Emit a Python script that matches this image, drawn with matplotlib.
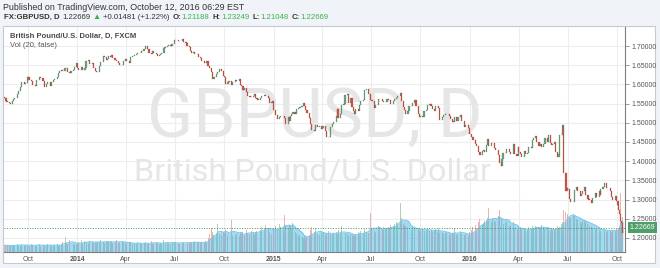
import numpy as np
import pandas as pd
import matplotlib
matplotlib.use("Agg")
import matplotlib.pyplot as plt
import matplotlib.dates as mdates
from matplotlib.patches import Rectangle

plt.rcParams['font.family'] = ['Liberation Sans', 'DejaVu Sans']

# ------------------------------------------------------------------ data
# bars per month (2013: Aug..Dec, 2014/2015: Jan..Dec, 2016: Jan..Oct)
bars_2013 = [5, 10, 10, 10, 10]
bars_2014 = [10, 10, 10, 10, 10, 10, 10, 10, 10, 10, 10, 10]
bars_2015 = [10, 10, 10, 10, 10, 10, 10, 10, 10, 10, 10, 10]
bars_2016 = [10, 10, 10, 10, 10, 12, 10, 10, 10, 8]
first_bar_day = '2013-08-19'
last_bar_day = '2016-10-12'
first_open = 1.5680

close_2013 = [
    1.5640, 1.5580, 1.5530, 1.5510, 1.5495,
    1.5560, 1.5610, 1.5650, 1.5760, 1.5830, 1.5930, 1.6050, 1.6010, 1.6040, 1.6180,
    1.6180, 1.6120, 1.6090, 1.5990, 1.5960, 1.6110, 1.6200, 1.6170, 1.6090, 1.6020,
    1.5930, 1.6010, 1.6050, 1.5960, 1.6060, 1.6110, 1.6140, 1.6180, 1.6290, 1.6360,
    1.6380, 1.6360, 1.6440, 1.6420, 1.6330, 1.6300, 1.6350, 1.6380, 1.6450, 1.6560,
]
close_2014 = [
    1.6420, 1.6370, 1.6450, 1.6380, 1.6430, 1.6600, 1.6640, 1.6540, 1.6570, 1.6440,
    1.6350, 1.6310, 1.6330, 1.6470, 1.6590, 1.6730, 1.6720, 1.6630, 1.6660, 1.6750,
    1.6720, 1.6770, 1.6690, 1.6630, 1.6610, 1.6560, 1.6500, 1.6510, 1.6600, 1.6660,
    1.6650, 1.6600, 1.6570, 1.6720, 1.6750, 1.6770, 1.6790, 1.6810, 1.6830, 1.6880,
    1.6870, 1.6930, 1.6990, 1.6930, 1.6830, 1.6790, 1.6860, 1.6830, 1.6780, 1.6750,
    1.6760, 1.6790, 1.6820, 1.6950, 1.6970, 1.7010, 1.7030, 1.7000, 1.7040, 1.7100,
    1.7150, 1.7160, 1.7140, 1.7120, 1.7170, 1.7110, 1.7070, 1.6990, 1.6970, 1.6880,
    1.6830, 1.6850, 1.6790, 1.6800, 1.6710, 1.6690, 1.6620, 1.6570, 1.6560, 1.6600,
    1.6470, 1.6420, 1.6310, 1.6140, 1.6190, 1.6270, 1.6310, 1.6390, 1.6340, 1.6210,
    1.6200, 1.6000, 1.6070, 1.6090, 1.5980, 1.6070, 1.6120, 1.6090, 1.6140, 1.5990,
    1.5960, 1.5860, 1.5900, 1.5790, 1.5710, 1.5680, 1.5660, 1.5700, 1.5740, 1.5640,
    1.5630, 1.5590, 1.5640, 1.5700, 1.5730, 1.5690, 1.5640, 1.5520, 1.5550, 1.5580,
]
close_2015 = [
    1.5330, 1.5200, 1.5100, 1.5160, 1.5170, 1.5180, 1.5120, 1.4960, 1.5150, 1.5050,
    1.5180, 1.5230, 1.5270, 1.5220, 1.5360, 1.5380, 1.5420, 1.5450, 1.5520, 1.5440,
    1.5340, 1.5250, 1.5120, 1.4980, 1.4810, 1.4780, 1.4950, 1.4890, 1.4920, 1.4840,
    1.4860, 1.4920, 1.4780, 1.4640, 1.4620, 1.4880, 1.4970, 1.5020, 1.5180, 1.5350,
    1.5130, 1.5230, 1.5470, 1.5500, 1.5720, 1.5740, 1.5520, 1.5640, 1.5420, 1.5300,
    1.5240, 1.5350, 1.5310, 1.5460, 1.5560, 1.5600, 1.5850, 1.5880, 1.5740, 1.5720,
    1.5600, 1.5570, 1.5390, 1.5470, 1.5620, 1.5610, 1.5580, 1.5530, 1.5550, 1.5610,
    1.5590, 1.5600, 1.5480, 1.5580, 1.5620, 1.5650, 1.5700, 1.5780, 1.5580, 1.5410,
    1.5330, 1.5230, 1.5300, 1.5430, 1.5440, 1.5520, 1.5590, 1.5440, 1.5220, 1.5140,
    1.5180, 1.5150, 1.5320, 1.5330, 1.5460, 1.5480, 1.5450, 1.5360, 1.5300, 1.5430,
    1.5440, 1.5390, 1.5060, 1.5140, 1.5200, 1.5240, 1.5230, 1.5180, 1.5100, 1.5050,
    1.5030, 1.5140, 1.5040, 1.5150, 1.5200, 1.5050, 1.4900, 1.4930, 1.4870, 1.4740,
]
close_2016 = [
    1.4720, 1.4620, 1.4560, 1.4440, 1.4390, 1.4250, 1.4160, 1.4260, 1.4290, 1.4250,
    1.4420, 1.4580, 1.4400, 1.4480, 1.4480, 1.4350, 1.4300, 1.4150, 1.3940, 1.3880,
    1.4070, 1.4220, 1.4220, 1.4310, 1.4250, 1.4180, 1.4460, 1.4200, 1.4140, 1.4370,
    1.4230, 1.4180, 1.4100, 1.4260, 1.4190, 1.4210, 1.4380, 1.4350, 1.4550, 1.4610,
    1.4650, 1.4500, 1.4390, 1.4450, 1.4370, 1.4460, 1.4600, 1.4490, 1.4670, 1.4480,
    1.4410, 1.4450, 1.4510, 1.4250, 1.4120, 1.4200, 1.4680, 1.4690, 1.4950, 1.3680, 1.3220, 1.3310,
    1.3280, 1.3010, 1.2950, 1.2950, 1.3240, 1.3330, 1.3220, 1.3100, 1.3140, 1.3230,
    1.3330, 1.3110, 1.3020, 1.3000, 1.2920, 1.3040, 1.3160, 1.3080, 1.3220, 1.3120,
    1.3280, 1.3330, 1.3420, 1.3310, 1.3290, 1.3230, 1.3060, 1.3000, 1.3100, 1.2970,
    1.2850, 1.2730, 1.2730, 1.2620, 1.2430, 1.2380, 1.2120, 1.22669,
]

vol_2013 = [
    7, 6, 7, 6, 7,
    7, 6, 7, 8, 7, 6, 8, 7, 6, 7,
    7, 6, 8, 7, 6, 7, 8, 6, 7, 7,
    6, 7, 8, 7, 6, 7, 7, 8, 6, 7,
    8, 10, 15, 9, 8, 12, 9, 8, 7, 8,
]
vol_2014 = [
    9, 10, 12, 9, 11, 10, 9, 11, 10, 9,
    10, 9, 11, 10, 12, 10, 9, 11, 10, 10,
    10, 11, 9, 10, 12, 9, 10, 11, 10, 9,
    9, 8, 10, 9, 8, 9, 8, 10, 9, 8,
    8, 9, 10, 8, 9, 11, 9, 8, 10, 9,
    8, 9, 8, 12, 9, 10, 9, 8, 9, 10,
    9, 10, 9, 8, 10, 9, 9, 10, 9, 10,
    10, 9, 11, 9, 10, 9, 10, 9, 11, 10,
    14, 18, 24, 20, 17, 19, 28, 18, 17, 20,
    19, 22, 17, 18, 32, 16, 17, 18, 16, 19,
    18, 20, 17, 22, 19, 18, 21, 19, 17, 20,
    21, 23, 22, 25, 24, 27, 23, 20, 18, 22,
]
vol_2015 = [
    24, 26, 23, 28, 25, 22, 37, 26, 24, 27,
    26, 23, 29, 20, 18, 17, 16, 15, 14, 16,
    14, 15, 17, 22, 25, 20, 24, 18, 17, 19,
    18, 20, 17, 19, 21, 18, 17, 19, 20, 18,
    22, 18, 26, 17, 19, 18, 16, 18, 17, 16,
    17, 18, 20, 19, 21, 18, 23, 20, 19, 39,
    22, 24, 21, 20, 26, 23, 22, 25, 24, 23,
    25, 24, 27, 26, 28, 30, 29, 49, 34, 28,
    27, 26, 25, 24, 22, 25, 23, 22, 24, 21,
    22, 23, 21, 22, 24, 21, 22, 20, 21, 23,
    20, 24, 19, 20, 18, 19, 20, 17, 18, 19,
    18, 24, 17, 19, 21, 18, 17, 18, 16, 17,
]
vol_2016 = [
    20, 22, 25, 27, 24, 30, 33, 28, 29, 31,
    32, 34, 44, 30, 33, 31, 30, 36, 42, 33,
    30, 28, 29, 31, 27, 26, 30, 24, 22, 23,
    21, 23, 22, 24, 21, 22, 25, 23, 26, 24,
    26, 25, 24, 23, 27, 25, 23, 24, 22, 21,
    23, 22, 21, 24, 26, 23, 25, 28, 30, 42, 40, 36,
    38, 35, 34, 37, 36, 33, 32, 30, 29, 31,
    30, 32, 28, 26, 25, 24, 23, 24, 22, 21,
    21, 22, 23, 20, 22, 21, 20, 22, 21, 23,
    22, 24, 23, 25, 59, 30, 35, 12,
]

price_ticks = [1.20, 1.25, 1.30, 1.35, 1.40, 1.45, 1.50, 1.55, 1.60, 1.65, 1.70]
time_tick_dates = ['2013-10-01', '2014-01-01', '2014-04-01', '2014-07-01', '2014-10-01',
                   '2015-01-01', '2015-04-01', '2015-07-01', '2015-10-01',
                   '2016-01-01', '2016-04-01', '2016-07-01', '2016-10-01']
time_tick_labels = ['Oct', '2014', 'Apr', 'Jul', 'Oct', '2015', 'Apr', 'Jul', 'Oct',
                    '2016', 'Apr', 'Jul', 'Oct']
last_price = 1.22669

# ------------------------------------------------------------------ bar dates
def month_dates(year, month, n, start=None, end=None):
    ms = pd.Timestamp(year=year, month=month, day=1)
    me = ms + pd.offsets.MonthEnd(0)
    if start is not None:
        ms = pd.Timestamp(start)
    if end is not None:
        me = pd.Timestamp(end)
    bd = pd.bdate_range(ms, me)
    idx = np.linspace(0, len(bd) - 1, n).round().astype(int)
    return list(bd[idx])

dates = []
for i, n in enumerate(bars_2013):
    m = 8 + i
    dates += month_dates(2013, m, n, start=first_bar_day if m == 8 else None)
for i, n in enumerate(bars_2014):
    dates += month_dates(2014, 1 + i, n)
for i, n in enumerate(bars_2015):
    dates += month_dates(2015, 1 + i, n)
for i, n in enumerate(bars_2016):
    m = 1 + i
    dates += month_dates(2016, m, n, end=last_bar_day if m == 10 else None)

closes = np.array(close_2013 + close_2014 + close_2015 + close_2016)
vols = np.array(vol_2013 + vol_2014 + vol_2015 + vol_2016, dtype=float)
assert len(closes) == len(dates) == len(vols)
opens = np.concatenate([[first_open], closes[:-1]])
x = mdates.date2num(pd.DatetimeIndex(dates).to_pydatetime())
up = closes >= opens

# ------------------------------------------------------------------ figure
W, H = 660, 268
fig = plt.figure(figsize=(W / 100, H / 100), dpi=100, facecolor='#f0f3f7')

def fx(px):
    return px / W

def fy(py):
    return 1 - py / H

# white panel (behind everything)
fig.patches.append(Rectangle((fx(3), fy(263)), fx(652), 237 / H, transform=fig.transFigure,
                             facecolor='white', edgecolor='#c5cad1', linewidth=0.8, zorder=-10))

rect = [fx(4), fy(252), 621 / W, 225 / H]
xlim = (mdates.date2num(pd.Timestamp('2013-08-17 08:00')),
        mdates.date2num(pd.Timestamp('2016-10-15 22:00')))
ylim = (1.1635, 1.7495)
tick_x = mdates.date2num(pd.DatetimeIndex(time_tick_dates).to_pydatetime())

# background layer: grid + watermark
ax_bg = fig.add_axes(rect, zorder=1)
ax_bg.set_xlim(xlim)
ax_bg.set_ylim(ylim)
ax_bg.patch.set_visible(False)
for s in ax_bg.spines.values():
    s.set_visible(False)
ax_bg.set_xticks([])
ax_bg.set_yticks([])
for t in tick_x:
    ax_bg.axvline(t, color='#ededed', lw=0.8, zorder=0)
for p in price_ticks:
    ax_bg.axhline(p, color='#ededed', lw=0.8, zorder=0)
ax_bg.text(0.5, 0.596, 'GBPUSD, D', transform=ax_bg.transAxes, ha='center', va='center',
           fontsize=49, color='#e6e6e6', family=['Roboto', 'DejaVu Sans'], zorder=1)
ax_bg.text(0.496, 0.356, 'British Pound/U.S. Dollar', transform=ax_bg.transAxes, ha='center',
           va='center', fontsize=23.4, color='#e6e6e6',
           family=['Roboto', 'DejaVu Sans'], zorder=1)

# volume layer
axv = fig.add_axes(rect, zorder=2)
axv.set_xlim(xlim)
axv.set_ylim(0, 225)
axv.patch.set_visible(False)
for s in axv.spines.values():
    s.set_visible(False)
axv.set_xticks([])
axv.set_yticks([])
vcol = np.where(up, '#a8d6b3', '#ebb4ae')
axv.bar(x, vols, width=1.8, color=vcol, linewidth=0, zorder=2)
vol_ma = pd.Series(vols).rolling(7, min_periods=1).mean().values
axv.fill_between(x, 0, vol_ma, color='#5cb8e6', alpha=0.55, linewidth=0, zorder=3)
axv.plot(x, vol_ma, color='#6cc0ea', lw=0.6, zorder=3)

# price layer
ax = fig.add_axes(rect, zorder=3)
ax.set_xlim(xlim)
ax.set_ylim(ylim)
ax.patch.set_visible(False)
ax.bar(x[up], (closes - opens)[up], bottom=opens[up], width=2.2, color='#6ba583',
       edgecolor='#3c6b4f', linewidth=0.15, zorder=4)
ax.bar(x[~up], (closes - opens)[~up], bottom=opens[~up], width=2.2, color='#d75442',
       edgecolor='#7a3a30', linewidth=0.15, zorder=4)
ax.axhline(last_price, color='#3f9a5c', lw=0.7, ls=(0, (1, 1.6)), zorder=5)

for side in ['left', 'top']:
    ax.spines[side].set_visible(False)
ax.spines['right'].set_color('#7d7d7d')
ax.spines['bottom'].set_color('#7d7d7d')
ax.spines['right'].set_linewidth(0.8)
ax.spines['bottom'].set_linewidth(0.8)

ax.yaxis.tick_right()
ax.set_yticks(price_ticks)
ax.set_yticklabels([f'{p:.5f}' for p in price_ticks])
ax.tick_params(axis='y', length=3, width=0.6, color='#8a8a8a', labelsize=5,
               labelcolor='#555555', pad=2)
ax.set_xticks(tick_x)
ax.set_xticklabels(time_tick_labels)
ax.tick_params(axis='x', length=0, labelsize=5, labelcolor='#555555', pad=3.2)
for lbl in ax.get_xticklabels():
    if lbl.get_text().isdigit():
        lbl.set_fontweight('bold')

ax.annotate(f'{last_price:.5f}', xy=(1, last_price), xycoords=('axes fraction', 'data'),
            xytext=(3.3, 0), textcoords='offset points', ha='left', va='center',
            fontsize=5, color='white',
            bbox=dict(boxstyle='square,pad=0.3', fc='#4e9e67', ec='none'), zorder=6)

# legend inside chart
fig.text(fx(10), fy(36), 'British Pound/U.S. Dollar, D, FXCM', fontsize=5.5,
         fontweight='bold', color='#4a4a4a', va='center', ha='left', zorder=10)
fig.text(fx(10), fy(46), 'Vol (20, false)', fontsize=5.5, color='#555555',
         va='center', ha='left', zorder=10)

# header
fig.text(fx(3), fy(7), 'Published on TradingView.com, October 12, 2016 06:29 EST',
         fontsize=6.4, color='#333333', va='center', ha='left')
green = '#3bb34a'
dark = '#333333'
yl = fy(17.5)
pieces = [
    ('FX:GBPUSD, D', dark, 'bold', 0),
    ('1.22669', dark, 'normal', 3),
    ('\u25B2', green, 'normal', 2),
    ('+0.01481 (+1.22%)', dark, 'normal', 2),
    ('O:', dark, 'bold', 3),
    ('1.21188', green, 'normal', 0.5),
    ('H:', dark, 'bold', 3),
    ('1.23249', green, 'normal', 0.5),
    ('L:', dark, 'bold', 3),
    ('1.21048', green, 'normal', 0.5),
    ('C:', dark, 'bold', 3),
    ('1.22669', green, 'normal', 0.5),
]
renderer = fig.canvas.get_renderer()
cur = 4.0
for t, c, wgt, gap in pieces:
    cur += gap
    fs = 6.0 if t == '\u25B2' else 5.6
    tx = fig.text(fx(cur), yl, t, fontsize=fs, color=c, fontweight=wgt, va='center', ha='left')
    bb = tx.get_window_extent(renderer=renderer)
    cur = bb.x1

fig.savefig('out.png', dpi=100, facecolor=fig.get_facecolor())
